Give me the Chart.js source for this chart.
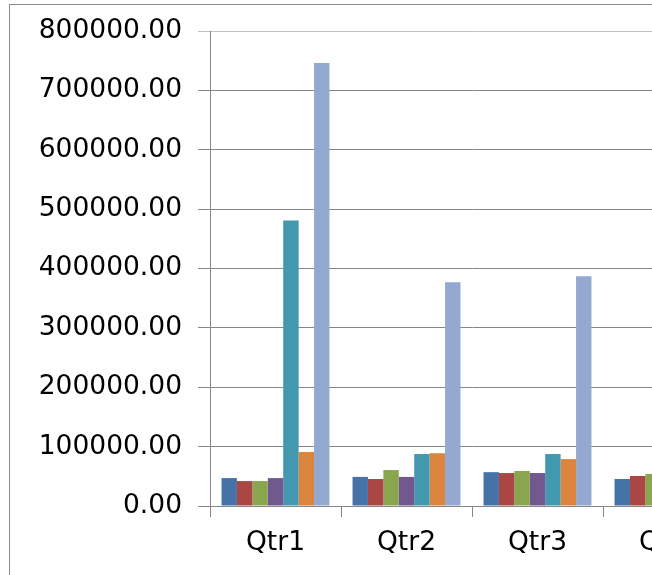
<!DOCTYPE html>
<html>
<head>
<meta charset="utf-8">
<script src="https://cdn.jsdelivr.net/npm/chart.js@4.4.0/dist/chart.umd.min.js"></script>
<style>
  html, body { margin: 0; padding: 0; overflow: hidden; background: #fff; width: 652px; height: 575px; }
  #frame { position: absolute; left: 9px; top: 4px; width: 760px; height: 620px; border: 1px solid #8c8c8c; }
  #frame canvas { display: block; }
</style>
</head>
<body>
<div id="frame"><canvas id="grafico" width="760" height="620"></canvas></div>
<script>
var trimestres = ['Qtr1', 'Qtr2', 'Qtr3', 'Qtr4'];
var series = ['Series1', 'Series2', 'Series3', 'Series4', 'Series5', 'Series6', 'Series7'];
var serie1 = [47000, 49000, 57000, 45500];
var serie2 = [42000, 45500, 55500, 50500];
var serie3 = [42000, 60500, 59000, 54000];
var serie4 = [47000, 49000, 55500, 50000];
var serie5 = [481000, 87500, 87500, 90000];
var serie6 = [91000, 89000, 79000, 85000];
var serie7 = [746000, 377000, 387000, 390000];
var colores = ['#4572A7', '#AA4643', '#89A54E', '#71588F', '#4198AF', '#DB843D', '#93A9CF'];

var valores = [serie1, serie2, serie3, serie4, serie5, serie6, serie7];
var fuente = { family: 'DejaVu Sans', size: 26.5 };

var grafico = new Chart(document.getElementById('grafico').getContext('2d'), {
    type: 'bar',
    data: {
        labels: trimestres,
        datasets: series.map(function (nombre, i) {
            return {
                label: nombre,
                data: valores[i],
                backgroundColor: colores[i],
                borderWidth: 0,
                barPercentage: 1,
                categoryPercentage: 0.824
            };
        })
    },
    options: {
        responsive: false,
        animation: false,
        layout: { padding: { top: 26, right: 36, left: 0, bottom: 0 } },
        plugins: { legend: { display: false }, tooltip: { enabled: false } },
        scales: {
            y: {
                min: 0,
                max: 800000,
                afterFit: function (escala) {
                    escala.width = 200;
                    escala.paddingTop = 0;
                    escala.paddingBottom = 0;
                },
                ticks: {
                    stepSize: 100000,
                    padding: 16,
                    color: '#000',
                    font: fuente,
                    callback: function (v) { return v.toFixed(2); }
                },
                grid: {
                    color: function (ctx) { return ctx.tick && ctx.tick.value === 800000 ? '#c0c0c0' : '#868686'; },
                    lineWidth: 1,
                    tickLength: 12
                },
                border: { color: '#868686', width: 1 }
            },
            x: {
                afterFit: function (escala) { escala.height = 119; },
                ticks: { padding: 10, color: '#000', font: fuente },
                grid: { drawOnChartArea: false, drawTicks: true, tickLength: 11, color: '#868686' },
                border: { color: '#868686', width: 1 }
            }
        }
    }
});
</script>
</body>
</html>
